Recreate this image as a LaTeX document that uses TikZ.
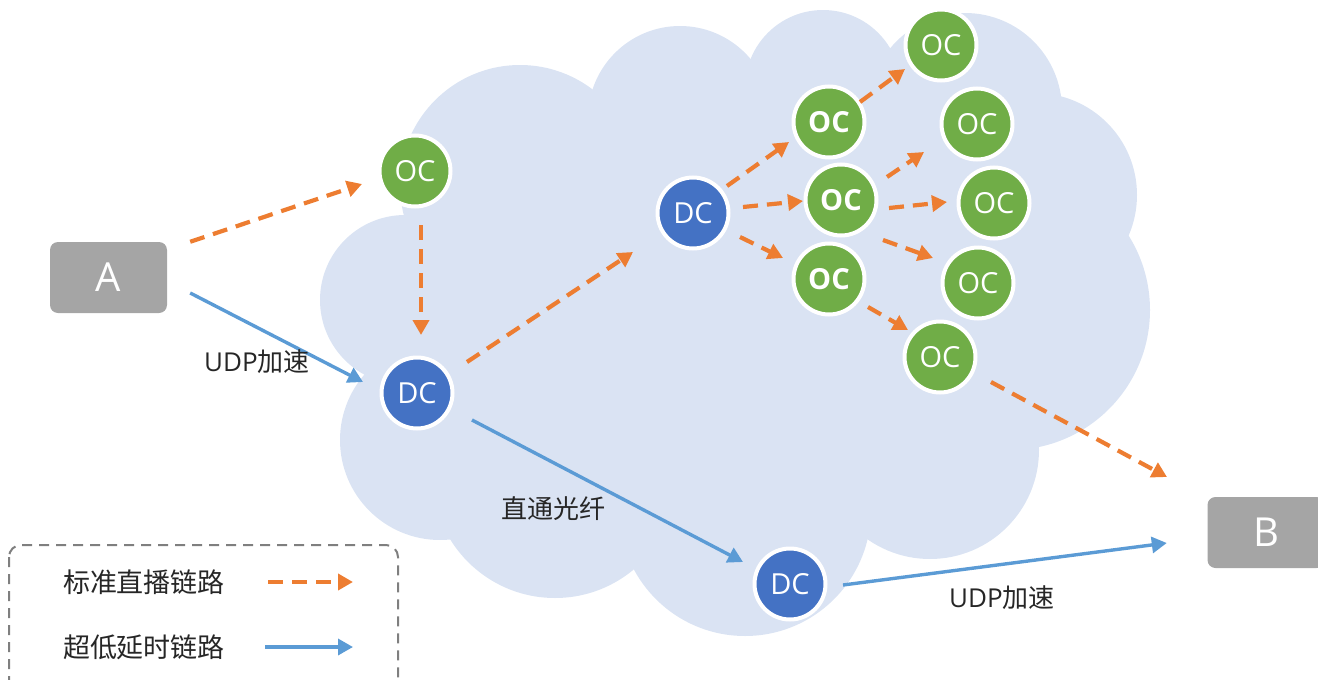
\documentclass[tikz,border=0pt]{standalone}
\usepackage{fontspec}
\setmainfont{Noto Sans CJK SC}
\newfontfamily\latinsans{Open Sans}
\usetikzlibrary{arrows.meta,calc}

\definecolor{cloudblue}{HTML}{DAE3F3}
\definecolor{ocgreen}{HTML}{70AD47}
\definecolor{dcblue}{HTML}{4472C4}
\definecolor{linkorange}{HTML}{ED7D31}
\definecolor{linkblue}{HTML}{5B9BD5}
\definecolor{endgray}{HTML}{A5A5A5}
\definecolor{legendgray}{HTML}{7F7F7F}
\definecolor{textdark}{HTML}{262626}

\tikzset{
  site/.style={circle, draw=white, line width=4pt, minimum size=71pt, inner sep=0pt,
               text=white, font=\latinsans\fontsize{29}{34}\selectfont},
  oc/.style={site, fill=ocgreen},
  ocbold/.style={oc, font=\latinsans\fontsize{29}{34}\selectfont\bfseries},
  dc/.style={site, fill=dcblue},
  endpoint/.style={rectangle, rounded corners=8pt, fill=endgray, inner sep=0pt,
                   minimum width=117pt, minimum height=71pt, text=white,
                   font=\latinsans\fontsize{40}{46}\selectfont},
  stdlink/.style={draw=linkorange, line width=4.2pt, dash pattern=on 15pt off 9pt,
                  -{Triangle[length=15pt,width=16pt]}},
  lowlink/.style={draw=linkblue, line width=3.4pt, -{Triangle[length=15pt,width=16pt]}},
  linktext/.style={text=textdark, inner sep=0pt, font=\fontsize{26}{30}\selectfont},
  legendtext/.style={text=textdark, inner sep=0pt, font=\fontsize{27}{31}\selectfont},
}

\begin{document}
\begin{tikzpicture}[x=1pt,y=-1pt]
\useasboundingbox (0,0) rectangle (1318,680);

% cloud: union of round puffs plus the polygon through their centres
\fill[cloudblue]
  (405,300) -- (520,185) -- (680,118) -- (823,88) -- (965,110) -- (1035,195)
  -- (1010,310) -- (930,450) -- (745,510) -- (555,475) -- (440,440) -- cycle;
\fill[cloudblue] (405,300) circle[radius=85pt];
\fill[cloudblue] (520,185) circle[radius=120pt];
\fill[cloudblue] (680,118) circle[radius=92pt];
\fill[cloudblue] (823,88) circle[radius=78pt];
\fill[cloudblue] (965,110) circle[radius=97pt];
\fill[cloudblue] (1035,195) circle[radius=102pt];
\fill[cloudblue] (1010,310) circle[radius=140pt];
\fill[cloudblue] (930,450) circle[radius=109pt];
\fill[cloudblue] (745,510) circle[radius=126pt];
\fill[cloudblue] (555,475) circle[radius=123pt];
\fill[cloudblue] (440,440) circle[radius=100pt];

% end points
\node[endpoint] (A) at (108.5,277.5) {A};
\node[endpoint] (B) at (1266,532.5) {B};

% data centres and edge caches
\node[oc] (ocL) at (415,171) {OC};
\node[dc] (dc1) at (417,393) {DC};
\node[dc] (dc2) at (693,213) {DC};
\node[dc] (dc3) at (790,584) {DC};

\node[ocbold] (oca) at (829,122) {OC};
\node[ocbold] (ocb) at (841,200) {OC};
\node[ocbold] (occ) at (829,279) {OC};

\node[oc] (oc1) at (941,45) {OC};
\node[oc] (oc2) at (977,124) {OC};
\node[oc] (oc3) at (994,203) {OC};
\node[oc] (oc4) at (978,283) {OC};
\node[oc] (oc5) at (940,357) {OC};

\coordinate (toB) at (1167,477);

% standard live-streaming links
\draw[stdlink] ($(A.north east)+(23,0)$) -- ($(ocL)+(-53,13)$);
\draw[stdlink] ($(ocL)+(6,54)$) -- ($(dc1)+(4,-58)$);
\draw[stdlink] ($(dc1)+(50,-31)$) -- ($(dc2)+(-60,39)$);
\draw[stdlink] ($(dc2)+(34,-27)$) -- ($(oca)+(-40,20)$);
\draw[stdlink] ($(dc2)+(50,-6)$) -- ($(ocb)+(-38,1)$);
\draw[stdlink] ($(dc2)+(47,24)$) -- ($(occ)+(-46,-21)$);
\draw[stdlink] ($(oca)+(31,-20)$) -- ($(oc1)+(-36,24)$);
\draw[stdlink] ($(ocb)+(46,-23)$) -- ($(oc2)+(-53,28)$);
\draw[stdlink] ($(ocb)+(48,8)$) -- ($(oc3)+(-47,-1)$);
\draw[stdlink] ($(ocb)+(42,40)$) -- ($(oc4)+(-45,-25)$);
\draw[stdlink] ($(occ)+(39,28)$) -- ($(oc5)+(-32,-27)$);
\draw[stdlink] ($(oc5)+(51,25)$) -- (toB);

% ultra-low-latency links
\draw[lowlink] ($(A.east)+(23,15.5)$) -- ($(dc1)+(-54,-11)$);
\draw[lowlink] ($(dc1)+(55,27)$) -- ($(dc3)+(-47,-22)$);
\draw[lowlink] ($(dc3)+(53,1)$) -- ($(B.west)+(-40.5,10.5)$);

% link labels
\node[linktext] (udpA) at (257,362) {{\latinsans UDP}加速};
\node[linktext] (fiber) at (553,509) {直通光纤};
\node[linktext] (udpB) at (1002,598) {{\latinsans UDP}加速};

% legend
\draw[legendgray, line width=2pt, dash pattern=on 10pt off 7pt, rounded corners=12pt]
  (9,545) rectangle (398,700);
\node[legendtext] (lgstd) at (144,582) {标准直播链路};
\node[legendtext] (lglow) at (144,647) {超低延时链路};
\coordinate (lgstdA) at (268,582);
\coordinate (lgstdB) at (353,582);
\coordinate (lglowA) at (265,647);
\coordinate (lglowB) at (353,647);
\draw[stdlink] (lgstdA) -- (lgstdB);
\draw[lowlink] (lglowA) -- (lglowB);
\end{tikzpicture}
\end{document}
